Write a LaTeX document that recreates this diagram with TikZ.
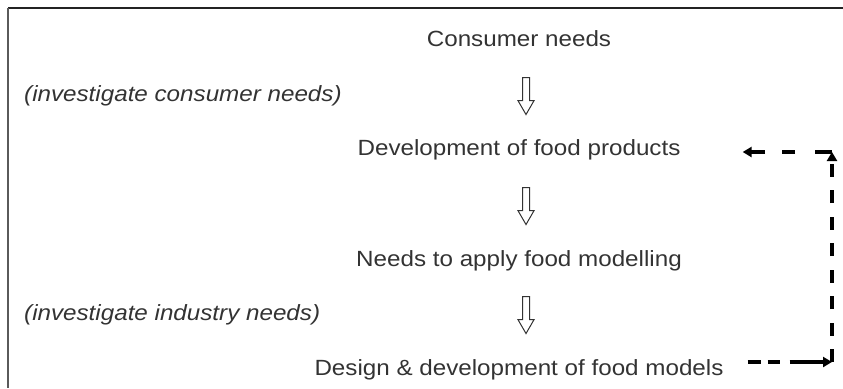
\documentclass[tikz,border=0pt]{standalone}
\usepackage{fontspec}
\setmainfont[FakeStretch=1.1]{Liberation Sans}
\usepackage{tikz}
\usetikzlibrary{arrows.meta,shapes.arrows}
\definecolor{fmtext}{RGB}{51,51,51}
\definecolor{fmframe}{RGB}{35,35,35}
\definecolor{fmside}{RGB}{90,90,90}

\begin{document}
\begin{tikzpicture}[
  x=1bp, y=-1bp,
  font=\fontsize{22bp}{26bp}\selectfont,
  lbl/.style={inner sep=0pt, text=fmtext, anchor=base},
  note/.style={lbl, anchor=base west, font=\fontsize{22bp}{26bp}\selectfont\itshape},
  downarr/.style={single arrow, draw=fmtext, line width=1bp, fill=white, rotate=-90, inner xsep=0pt, inner ysep=3bp,
    minimum height=37bp, minimum width=15bp, single arrow head extend=4.5bp, single arrow tip angle=60},
  fb/.style={-{Triangle[length=9bp,width=10bp]}, line width=3.6bp},
  fbbot/.style={fb, dash pattern=on 13bp off 7bp on 12bp off 10bp on 60bp off 1bp},
  fbup/.style={fb, dash pattern=on 13bp off 13.5bp},
  fbtop/.style={fb, dash pattern=on 17bp off 20bp on 13bp off 17bp on 60bp off 1bp}
]
\useasboundingbox (0,0) rectangle (843,388);
% frame
\coordinate (tl) at (8,8);
\coordinate (tr) at (843,8);
\coordinate (bl) at (8,388);
\draw[fmframe, line width=1.6bp] (tr) -- (tl);
\draw[fmside, line width=1.6bp] (tl) -- (bl);

\node[lbl] (consumer) at (519,46) {Consumer needs};
\node[lbl] (develop) at (519,155) {Development of food products};
\node[lbl] (apply) at (519,266) {Needs to apply food modelling};
\node[lbl] (design) at (519,375) {Design \& development of food models};
\node[note] (invcons) at (24,101) {(investigate consumer needs)};
\node[note] (invind) at (24,320) {(investigate industry needs)};

\node[downarr] (a1) at (526,93) {};
\node[downarr] (a2) at (526,203) {};
\node[downarr] (a3) at (526,312) {};

% feedback loop
\coordinate (c1) at (832,362);
\coordinate (c2) at (832,152);
\draw[fbbot, shorten <=24bp] (design.east |- c1) -- (c1);
\draw[fbup] (c1) -- (c2);
\draw[fbtop, shorten >=62bp] (c2) -- (develop.east |- c2);
\end{tikzpicture}
\end{document}
